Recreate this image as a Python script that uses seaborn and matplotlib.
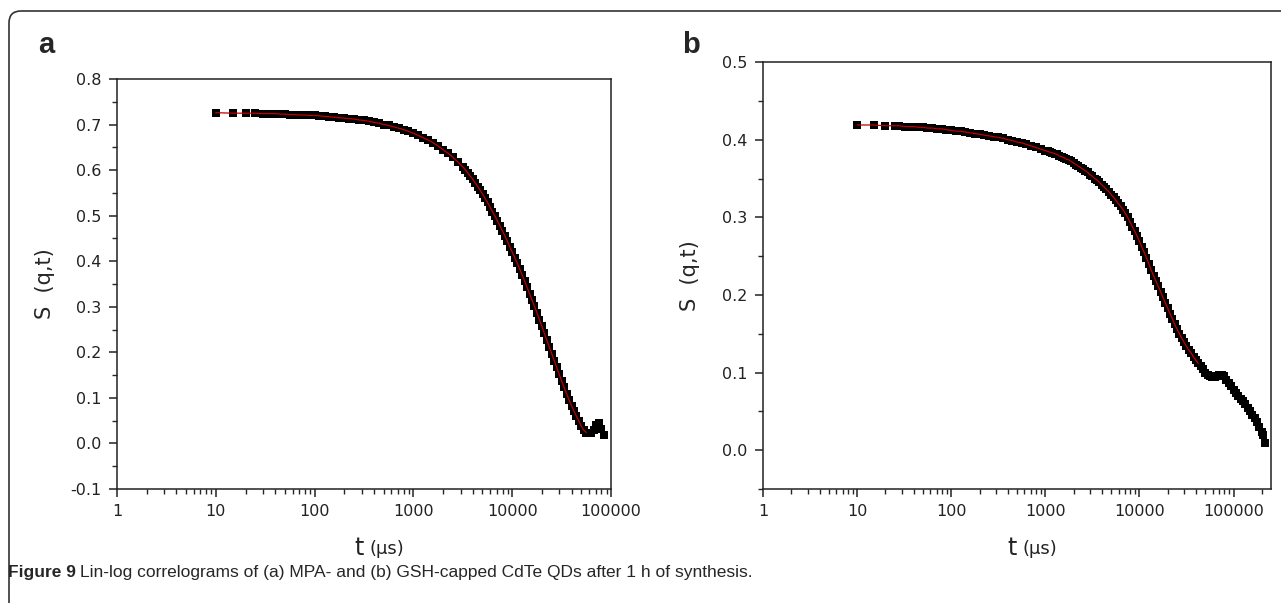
import numpy as np
import pandas as pd
import matplotlib
matplotlib.use('Agg')
import matplotlib.pyplot as plt
import seaborn as sns
from matplotlib.ticker import FixedLocator, LogLocator, MultipleLocator, NullFormatter, FormatStrFormatter
from matplotlib.patches import FancyBboxPatch

sns.set_style('ticks')
plt.rcParams['font.family'] = ['DejaVu Sans']

# Panel a: MPA-capped CdTe QDs
t_a = [10, 15, 20, 25, 30, 35, 40, 45, 50, 56, 63, 71, 79, 89, 100, 112, 126, 141, 158, 178,
       200, 224, 251, 282, 316, 355, 398, 447, 501, 562, 631, 708, 794, 891, 1000, 1122, 1259,
       1413, 1585, 1778, 1995, 2239, 2512, 2818, 3162, 3350, 3548, 3758, 3981, 4217, 4467, 4732,
       5012, 5309, 5623, 5957, 6310, 6683, 7079, 7499, 7943, 8414, 8913, 9441, 10000, 10593,
       11220, 11885, 12589, 13335, 14125, 14962, 15849, 16788, 17783, 18836, 19953, 21135, 22387,
       23714, 25119, 26607, 28184, 29854, 31623, 33497, 35481, 37584, 39811, 42170, 44668, 47315,
       50119, 53088, 56234, 59566, 63096, 66834, 70795, 74989, 79433, 84140]
s_a = [0.726, 0.725, 0.725, 0.725, 0.724, 0.724, 0.724, 0.723, 0.723, 0.722, 0.722, 0.721, 0.721,
       0.720, 0.720, 0.719, 0.718, 0.717, 0.716, 0.715, 0.714, 0.713, 0.712, 0.710, 0.709, 0.707,
       0.705, 0.703, 0.700, 0.698, 0.695, 0.692, 0.689, 0.685, 0.681, 0.676, 0.671, 0.666, 0.660,
       0.653, 0.645, 0.637, 0.628, 0.618, 0.607, 0.601, 0.594, 0.587, 0.580, 0.572, 0.564, 0.556,
       0.547, 0.538, 0.529, 0.519, 0.509, 0.499, 0.489, 0.478, 0.467, 0.456, 0.444, 0.432, 0.420,
       0.408, 0.396, 0.383, 0.370, 0.357, 0.343, 0.329, 0.315, 0.301, 0.287, 0.272, 0.257, 0.242,
       0.227, 0.212, 0.197, 0.182, 0.167, 0.152, 0.137, 0.123, 0.109, 0.096, 0.083, 0.071, 0.060,
       0.049, 0.038, 0.029, 0.024, 0.023, 0.024, 0.030, 0.040, 0.046, 0.032, 0.018]

# Panel b: GSH-capped CdTe QDs
t_b = [10, 15, 20, 25, 28, 32, 35, 40, 45, 50, 56, 63, 71, 79, 89, 100, 112, 126, 141, 158, 178,
       200, 224, 251, 282, 316, 355, 398, 447, 501, 562, 631, 708, 794, 891, 1000, 1059, 1122,
       1189, 1259, 1334, 1413, 1496, 1585, 1679, 1778, 1884, 1995, 2113, 2239, 2371, 2512, 2661,
       2818, 2985, 3162, 3350, 3548, 3758, 3981, 4217, 4467, 4732, 5012, 5309, 5623, 5957, 6310,
       6683, 7079, 7499, 7943, 8414, 8913, 9441, 10000, 10593, 11220, 11885, 12589, 13335, 14125,
       14962, 15849, 16788, 17783, 18836, 19953, 21135, 22387, 23714, 25119, 26607, 28184, 29854,
       31623, 33497, 35481, 37584, 39811, 42170, 44668, 47315, 50119, 53088, 56234, 59566, 63096,
       66834, 70795, 74989, 79433, 84140, 89125, 94406, 100000, 105925, 112202, 118850, 125893,
       133352, 141254, 149624, 158489, 167880, 177828, 188365, 199526, 206538, 213796]
s_b = [0.419, 0.419, 0.418, 0.418, 0.418, 0.417, 0.417, 0.417, 0.416, 0.416, 0.415, 0.415, 0.414,
       0.414, 0.413, 0.412, 0.411, 0.411, 0.410, 0.409, 0.408, 0.407, 0.406, 0.405, 0.404, 0.403,
       0.402, 0.400, 0.399, 0.397, 0.396, 0.394, 0.392, 0.390, 0.388, 0.386, 0.385, 0.384, 0.383,
       0.382, 0.381, 0.379, 0.378, 0.377, 0.375, 0.374, 0.372, 0.370, 0.368, 0.366, 0.364, 0.362,
       0.360, 0.358, 0.355, 0.353, 0.350, 0.348, 0.345, 0.342, 0.339, 0.336, 0.333, 0.329, 0.326,
       0.322, 0.318, 0.314, 0.310, 0.305, 0.300, 0.294, 0.288, 0.282, 0.276, 0.269, 0.262, 0.255,
       0.248, 0.240, 0.232, 0.225, 0.218, 0.211, 0.204, 0.197, 0.190, 0.183, 0.176, 0.169, 0.162,
       0.156, 0.150, 0.144, 0.139, 0.134, 0.129, 0.125, 0.120, 0.116, 0.112, 0.108, 0.104, 0.100,
       0.097, 0.095, 0.094, 0.094, 0.095, 0.097, 0.097, 0.095, 0.091, 0.087, 0.083, 0.078, 0.074,
       0.070, 0.066, 0.063, 0.059, 0.055, 0.050, 0.046, 0.041, 0.036, 0.030, 0.024, 0.019, 0.009]

x_major = [1, 10, 100, 1000, 10000, 100000]
x_labels = ['1', '10', '100', '1000', '10000', '100000']

fig = plt.figure(figsize=(12.81, 6.03), dpi=100)

# rounded frame around the whole figure
frame = FancyBboxPatch((0.09, -0.2), 13.2, 6.12, boxstyle='round,pad=0,rounding_size=0.12',
                       transform=fig.dpi_scale_trans, facecolor='none', edgecolor='#333333',
                       linewidth=1.2, clip_on=False)
fig.patches.append(frame)

ax_a = fig.add_axes([0.0913, 0.189, 0.3857, 0.680])
ax_b = fig.add_axes([0.5956, 0.189, 0.3966, 0.708])


def draw_panel(ax, t, s, n_fit, xlim, ylim, ylabelpad):
    df = pd.DataFrame({'t': t, 's': s})
    ax.set_xscale('log')
    sns.scatterplot(data=df, x='t', y='s', marker='s', s=26, color='black',
                    linewidth=0, ax=ax, zorder=2)
    sns.lineplot(data=df.iloc[:n_fit], x='t', y='s', color='#c00000', lw=0.9,
                 ax=ax, zorder=3, sort=False)
    ax.set_xlim(*xlim)
    ax.set_ylim(*ylim)
    ax.xaxis.set_major_locator(FixedLocator(x_major))
    ax.set_xticklabels(x_labels)
    ax.xaxis.set_minor_locator(LogLocator(base=10, subs=np.arange(2, 10)))
    ax.xaxis.set_minor_formatter(NullFormatter())
    ax.yaxis.set_major_locator(MultipleLocator(0.1))
    ax.yaxis.set_minor_locator(MultipleLocator(0.05))
    ax.yaxis.set_major_formatter(FormatStrFormatter('%.1f'))
    ax.tick_params(which='major', direction='out', length=6, width=1.1, labelsize=11.5,
                   colors='#222222', pad=5, top=False, right=False)
    ax.tick_params(which='minor', direction='out', length=3.5, width=1.0, top=False, right=False)
    for sp in ax.spines.values():
        sp.set_linewidth(1.1)
        sp.set_color('#222222')
    ax.set_xlabel('')
    ax.set_ylabel('S  (q,t)', fontsize=15, labelpad=ylabelpad)
    # x label: large "t" followed by a smaller "(μs)", same distance below both axes
    tt = ax.annotate('t', xy=(0.5, 0), xycoords='axes fraction', xytext=(0, -34),
                     textcoords='offset points', fontsize=17, ha='right', va='top',
                     color='#222222')
    ax.annotate('(μs)', xy=(1, 0), xycoords=tt, xytext=(4, 1.5), textcoords='offset points',
                fontsize=13, ha='left', va='bottom', color='#222222')


draw_panel(ax_a, t_a, s_a, 95, (1, 1e5), (-0.1, 0.8), 11)
draw_panel(ax_b, t_b, s_b, 101, (1, 2.5e5), (-0.05, 0.5), 16)

fig.text(38 / 1281, 1 - 53 / 603, 'a', fontsize=21, fontweight='bold',
         family=['Liberation Sans', 'DejaVu Sans'], ha='left', va='baseline')
fig.text(682 / 1281, 1 - 53 / 603, 'b', fontsize=21, fontweight='bold',
         family=['Liberation Sans', 'DejaVu Sans'], ha='left', va='baseline')

cap_font = ['Liberation Sans Narrow', 'Liberation Sans', 'DejaVu Sans']
t1 = fig.text(8 / 1281, 1 - 577 / 603, 'Figure 9', fontsize=12.5, fontweight='bold',
              family=cap_font, ha='left', va='baseline')
fig.canvas.draw()
bb = t1.get_window_extent()
fig.text((bb.x1 + 4) / 1281, 1 - 577 / 603,
         'Lin-log correlograms of (a) MPA- and (b) GSH-capped CdTe QDs after 1 h of synthesis.',
         fontsize=12.5, family=cap_font, ha='left', va='baseline')

fig.savefig('out.png', dpi=100)
